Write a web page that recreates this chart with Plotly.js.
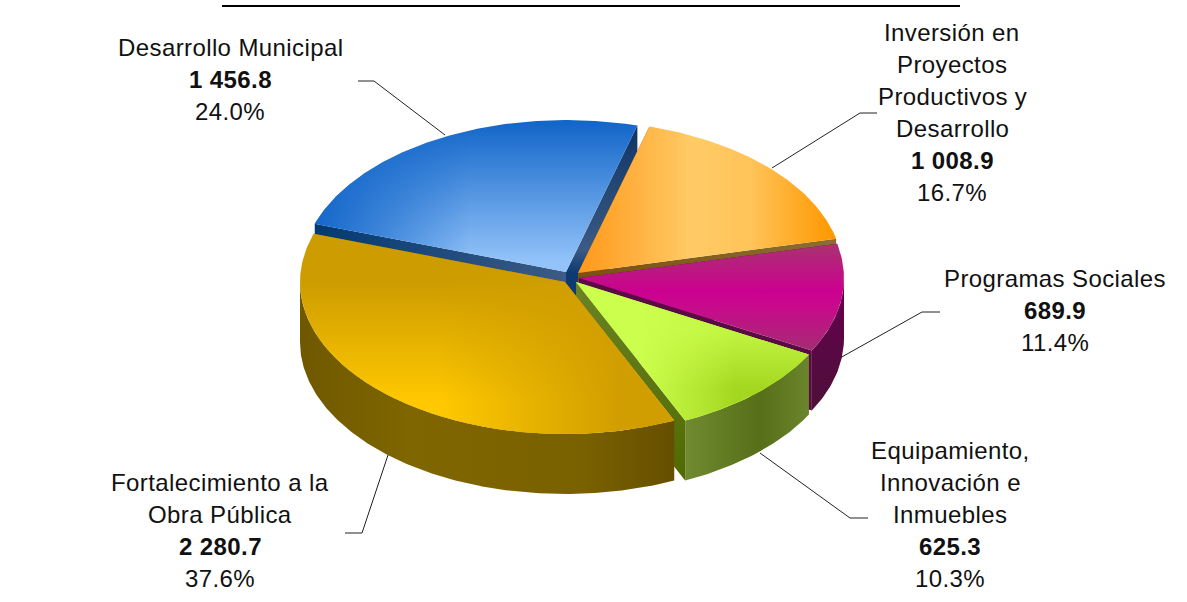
<!DOCTYPE html>
<html><head><meta charset="utf-8">
<script src="https://cdn.plot.ly/plotly-3.0.1.min.js"></script>
<style>html,body{margin:0;padding:0;background:#fff}#c{width:1187px;height:602px}.annotation-text{letter-spacing:0.4px}</style>
</head><body><div id="c"></div>
<script>
// ---- data ----
const categories = ["Desarrollo Municipal","Inversión en Proyectos Productivos y Desarrollo","Programas Sociales","Equipamiento, Innovación e Inmuebles","Fortalecimiento a la Obra Pública"];
const values = [1456.8,1008.9,689.9,625.3,2280.7];
const percents = [24.0,16.7,11.4,10.3,37.6];
const labelLines = [["Desarrollo Municipal"],["Inversión en","Proyectos","Productivos y","Desarrollo"],["Programas Sociales"],["Equipamiento,","Innovación e","Inmuebles"],["Fortalecimiento a la","Obra Pública"]];

// ---- geometry and style ----
const START = 161.4, RX = 265, RY = 152, DEPTH = 60;
const tips = [[566,272],[578,273],[579,278],[576,282],[565,282]];
const labelPos = [[230,47],[952,32],[1055,278],[950,450],[220,482]];
const leaders = [
  [[358,81],[374,81],[445,135]],
  [[772,168],[860,113],[877,113]],
  [[840,358],[922,312],[940,312]],
  [[760,453],[850,518],[868,518]],
  [[345,533],[362,533],[388,455]]
];
const H = 'horizontal', V = 'vertical';
const g = (type,start,stop,cs)=>({type,start,stop,colorscale:cs});
const styles = [
 {top:[g(V,122,262,[[0,'#1266c9'],[1,'#93c3f9']]), g(H,317,470,[[0,'rgba(16,100,200,0.95)'],[1,'rgba(16,100,200,0)']])],
  cutA:g(H,317,566,[[0,'#033a72'],[1,'#3c5b86']]), cutB:g(V,125,272,[[0,'#0f3565'],[.85,'#3b5a85'],[1,'#0e3a73']]), wall:g(H,300,800,[[0,'#033a72'],[1,'#033a72']])},
 {top:[g(H,578,833,[[0,'#ff981a'],[.45,'#ffcb66'],[.68,'#ffc358'],[1,'#ff9800']])],
  cutA:g(H,578,833,[[0,'#8a5a10'],[1,'#8a6f30']]), cutB:g(H,578,833,[[0,'#7a5010'],[1,'#8a6f30']]), wall:g(H,578,833,[[0,'#a06000'],[1,'#a06000']])},
 {top:[g(V,243,350,[[0,'#a8346f'],[.45,'#cc0090'],[.6,'#c80a8c'],[1,'#a42c72']])],
  cutA:g(H,579,842,[[0,'#5a0a45'],[1,'#5a0a45']]), cutB:g(H,579,842,[[0,'#5a0a45'],[1,'#5a0a45']]), wall:g(V,290,410,[[0,'#66004f'],[1,'#4c1038']])},
 {top:[g(V,282,420,[[0,'#ccff4d'],[1,'#ccff4d']]), g(H,640,735,[[0,'rgba(164,216,32,0)'],[1,'rgba(164,216,32,1)']]), g(V,330,388,[[0,'rgba(204,255,77,0.75)'],[1,'rgba(204,255,77,0)']])],
  cutA:g(V,282,480,[[0,'#6b8226'],[1,'#4f6a00']]), cutB:g(V,282,480,[[0,'#6b8226'],[1,'#4f6a00']]), wall:g(H,687,808,[[0,'#6f8a30'],[.6,'#566f18'],[1,'#6b852c']])},
 {top:[g(V,230,433,[[0,'#cc9c00'],[1,'#cc9c00']]), g(V,280,400,[[0,'rgba(255,200,0,0)'],[1,'rgba(255,200,0,1)']]), g(H,440,620,[[0,'rgba(208,158,0,0)'],[1,'rgba(208,158,0,1)']])],
  cutA:g(H,565,675,[[0,'#664e00'],[1,'#664e00']]), cutB:g(H,300,565,[[0,'#7a6000'],[1,'#7a6000']]), wall:g(H,298,675,[[0,'#6f5700'],[.3,'#7f6600'],[.75,'#7a6100'],[1,'#664e00']])}
];

// ---- angles come from the values ----
const total = values.reduce((a,b)=>a+b,0);
const D2R = Math.PI/180;
// the reference's perspective pushes the front-right rim round a little
const warp = a => a - 1.2 - 1.4*Math.cos((a+45)*D2R);
let acc = 0;
const spans = values.map(v=>{const a0=START-acc/total*360; acc+=v; return [warp(a0), warp(START-acc/total*360)];});
function arc(tip,a0,a1,dy){
  const n=Math.max(2,Math.ceil(Math.abs(a1-a0)*1.5)), pts=[];
  for(let i=0;i<=n;i++){const a=(a0+(a1-a0)*i/n)*D2R; pts.push([tip[0]+RX*Math.cos(a), tip[1]-RY*Math.sin(a)+dy]);}
  return pts;
}
const poly=(pts,fillgradient)=>({type:'scatter',x:pts.map(p=>p[0]),y:pts.map(p=>p[1]),mode:'lines',line:{width:0},fill:'toself',fillgradient,fillcolor:'rgba(0,0,0,0)',hoverinfo:'skip'});

const traces=[];
spans.forEach((s,i)=>{
  const T=tips[i], st=styles[i], a0=s[0], a1=s[1]; // clockwise: a1<a0
  const P0=arc(T,a0,a0,0)[0], P1=arc(T,a1,a1,0)[0];
  const down=p=>[p[0],p[1]+DEPTH];
  traces.push(poly([T,P0,down(P0),down(T),T],st.cutA));
  traces.push(poly([T,P1,down(P1),down(T),T],st.cutB));
  // outer wall: only the part of the rim facing the viewer (180..360 deg)
  const h=Math.min(a0,0), l=Math.max(a1,-180);
  if(h>l){
    const top=arc(T,h,l,0), bot=arc(T,h,l,DEPTH).reverse();
    traces.push(poly(top.concat(bot),st.wall));
  }
  const face=[T].concat(arc(T,a0,a1,0)).concat([T]);
  st.top.forEach(gr=>traces.push(poly(face,gr)));
});
leaders.forEach(l=>traces.push({type:'scatter',x:l.map(p=>p[0]),y:l.map(p=>p[1]),mode:'lines',line:{color:'#222',width:1},hoverinfo:'skip'}));

const fmtVal=v=>{const s=v.toFixed(1).split('.');return s[0].replace(/\B(?=(\d{3})+$)/g,' ')+'.'+s[1];};
const LH=32, FS=24;
const annotations=[];
categories.forEach((c,i)=>{
  const lines=labelLines[i].map(t=>({t,b:false})).concat([{t:fmtVal(values[i]),b:true},{t:percents[i].toFixed(1)+'%',b:false}]);
  lines.forEach((ln,k)=>annotations.push({xref:'x',yref:'y',x:labelPos[i][0],y:labelPos[i][1]+k*LH,text:ln.b?'<b>'+ln.t+'</b>':ln.t,showarrow:false,xanchor:'center',yanchor:'middle',font:{family:'"Liberation Sans",Arial,sans-serif',size:FS,color:'#111'}}));
});
Plotly.newPlot('c',traces,{
  width:1187,height:602,margin:{l:0,r:0,t:0,b:0},paper_bgcolor:'#fff',plot_bgcolor:'#fff',showlegend:false,
  xaxis:{range:[0,1187],visible:false,fixedrange:true},
  yaxis:{range:[602,0],visible:false,fixedrange:true},
  annotations,
  shapes:[{type:'line',xref:'x',yref:'y',x0:222,x1:960,y0:6,y1:6,line:{color:'#000',width:2}}]
},{displayModeBar:false,staticPlot:true});
</script></body></html>
